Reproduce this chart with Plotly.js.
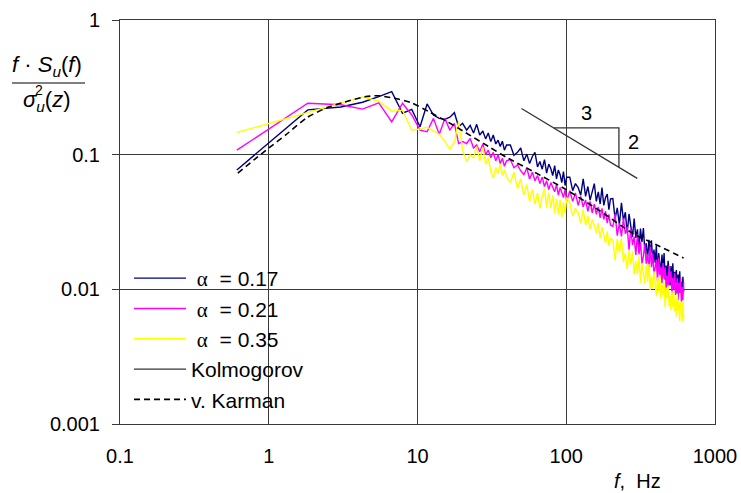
<!DOCTYPE html>
<html>
<head>
<meta charset="utf-8">
<script src="https://cdn.plot.ly/plotly-3.0.1.min.js"></script>
<style>html,body{margin:0;padding:0;background:#fff}#chart{width:741px;height:493px}</style>
</head>
<body>
<div id="chart"></div>
<script>
// ---- data ----
const freq = [0.61,1.83,3.05,4.27,5.49,6.71,7.93,9.15,10.4,11.6,12.8,14.0,15.3,16.5,17.7,18.9,20.1,21.4,22.6,23.8,25.0,26.2,27.5,28.7,29.9,31.1,32.3,33.6,34.8,36.0,37.2,38.4,39.7,
42.1,44.5,47.0,49.4,51.9,54.3,56.7,59.2,61.6,64.1,66.5,68.9,71.4,73.8,76.3,78.7,81.1,83.6,86.0,88.5,90.9,93.3,95.8,98.2,100.7,
105.6,110.5,115.3,120.2,125.1,130.0,134.9,139.8,144.6,149.5,154.4,159.3,164.2,169.1,173.9,178.8,183.7,188.6,193.5,198.3,
205.7,213.0,220.3,227.6,235.0,242.3,249.6,256.9,264.3,271.6,278.9,286.2,293.6,300.9,308.2,315.5,322.9,330.2,337.5,344.8,352.2,359.5,366.8,374.1,381.5,388.8,396.1,403.4,410.8,418.1,425.4,432.7,440.1,447.4,454.7,462.0,469.4,476.7,484.0,491.3,498.7,506.0,513.3,520.6,528.0,535.3,542.6,549.9,557.3,564.6,571.9,579.2,586.6,593.9,601.2,608.5,615.8];

const alpha017 = [0.077,0.215,0.226,0.245,0.270,0.294,0.203,0.217,0.161,0.238,0.197,0.186,0.183,0.190,0.205,0.161,0.171,0.152,0.165,0.145,0.168,0.140,0.150,0.131,0.145,0.125,0.140,0.120,0.128,0.115,0.126,0.108,0.118,
0.118,0.099,0.104,0.112,0.090,0.101,0.086,0.097,0.104,0.081,0.089,0.078,0.092,0.073,0.085,0.079,0.070,0.083,0.066,0.077,0.071,0.062,0.075,0.059,0.068,
0.068,0.054,0.061,0.057,0.050,0.066,0.049,0.058,0.046,0.052,0.061,0.045,0.053,0.043,0.057,0.042,0.048,0.051,0.039,0.047,
0.0472,0.0335,0.0403,0.0303,0.0439,0.0326,0.0374,0.0262,0.0363,0.0295,0.0245,0.0336,0.0241,0.0279,0.0196,0.0283,0.0225,0.0285,0.0190,0.0220,0.0168,0.0233,0.0183,0.0231,0.0157,0.0197,0.0157,0.0211,0.0134,0.0186,0.0156,0.0133,0.0181,0.0137,0.0186,0.0118,0.0150,0.0122,0.0163,0.0128,0.0107,0.0149,0.0116,0.0156,0.0105,0.0135,0.0111,0.0139,0.0092,0.0129,0.0109,0.0136,0.0095,0.0114,0.0089,0.0124,0.0096];

const alpha021 = [0.108,0.241,0.235,0.218,0.243,0.175,0.241,0.197,0.152,0.148,0.186,0.142,0.186,0.152,0.171,0.121,0.125,0.121,0.132,0.112,0.118,0.105,0.120,0.100,0.108,0.095,0.104,0.090,0.100,0.086,0.094,0.082,0.090,
0.092,0.080,0.084,0.076,0.071,0.080,0.066,0.074,0.064,0.070,0.061,0.068,0.058,0.064,0.055,0.062,0.058,0.053,0.060,0.050,0.057,0.052,0.048,0.055,0.045,
0.054,0.045,0.052,0.042,0.049,0.041,0.046,0.038,0.045,0.037,0.043,0.036,0.041,0.034,0.040,0.033,0.038,0.031,0.036,0.030,
0.0293,0.0362,0.0250,0.0309,0.0247,0.0337,0.0258,0.0291,0.0197,0.0283,0.0214,0.0246,0.0180,0.0256,0.0182,0.0225,0.0155,0.0177,0.0216,0.0155,0.0183,0.0138,0.0208,0.0146,0.0185,0.0130,0.0145,0.0166,0.0115,0.0172,0.0122,0.0147,0.0111,0.0157,0.0120,0.0146,0.0101,0.0126,0.0104,0.0149,0.0113,0.0136,0.0090,0.0122,0.0100,0.0132,0.0091,0.0104,0.0121,0.0083,0.0112,0.0094,0.0122,0.0081,0.0104,0.0083,0.0113];

const alpha035 = [0.146,0.205,0.240,0.268,0.250,0.210,0.214,0.152,0.155,0.160,0.150,0.142,0.125,0.110,0.125,0.176,0.108,0.089,0.100,0.095,0.115,0.090,0.114,0.085,0.095,0.075,0.067,0.080,0.072,0.085,0.070,0.077,0.068,
0.062,0.074,0.056,0.066,0.050,0.060,0.045,0.055,0.043,0.052,0.040,0.049,0.056,0.041,0.052,0.040,0.050,0.037,0.047,0.036,0.046,0.034,0.044,0.037,0.048,
0.044,0.035,0.040,0.037,0.031,0.039,0.030,0.035,0.028,0.033,0.030,0.026,0.031,0.024,0.029,0.025,0.022,0.027,0.021,0.024,
0.0232,0.0164,0.0237,0.0188,0.0238,0.0159,0.0185,0.0141,0.0195,0.0153,0.0192,0.0129,0.0163,0.0130,0.0175,0.0112,0.0156,0.0131,0.0111,0.0151,0.0114,0.0155,0.0099,0.0125,0.0102,0.0136,0.0106,0.0089,0.0123,0.0095,0.0128,0.0085,0.0110,0.0090,0.0113,0.0074,0.0103,0.0086,0.0107,0.0075,0.0090,0.0070,0.0097,0.0074,0.0096,0.0069,0.0083,0.0063,0.0093,0.0070,0.0080,0.0058,0.0082,0.0068,0.0058,0.0082,0.0060];

const kolmoX = [50, 300];
const kolmoY = [0.22, 0.0667];
const triX = [82.8, 226, 226];
const triY = [0.158, 0.158, 0.0805];
const slopeLabels = ['3', '2'];
const slopeLabelX = [136, 285];
const slopeLabelY = [0.204, 0.124];

const karmanX = [0.62,0.8,1.0,1.3,1.8,2.5,3.2,4.5,5.5,7,9,12,16,21,30,40,60,100,170,280,400,615];
const karmanY = [0.073,0.092,0.112,0.14,0.188,0.225,0.245,0.27,0.274,0.262,0.244,0.208,0.175,0.146,0.115,0.095,0.075,0.055,0.038,0.026,0.0215,0.0171];

const seriesNames = ['\u00a0\u03b1\u00a0\u00a0= 0.17', '\u00a0\u03b1\u00a0\u00a0= 0.21', '\u00a0\u03b1\u00a0\u00a0= 0.35', 'Kolmogorov', 'v. Karman'];
const xTicks = [0.1, 1, 10, 100, 1000];
const xTickText = ['0.1', '1', '10', '100', '1000'];
const yTicks = [0.001, 0.01, 0.1, 1];
const yTickText = ['0.001', '0.01', '0.1', '1'];

// ---- traces ----
const FONT = 'Arial, "Liberation Sans", sans-serif';
function alphaLabel(s) {
  return s.replace('\u03b1', '<span style="font-family:\'Liberation Serif\',serif">\u03b1</span>');
}
const traces = [
  {x: freq, y: alpha017, mode: 'lines', name: alphaLabel(seriesNames[0]), legendgroup: 'a', line: {color: '#000080', width: 1.4}},
  {x: freq, y: alpha021, mode: 'lines', name: alphaLabel(seriesNames[1]), legendgroup: 'b', line: {color: '#FF00FF', width: 1.4}},
  {x: freq, y: alpha035, mode: 'lines', name: alphaLabel(seriesNames[2]), legendgroup: 'c', line: {color: '#FFFF00', width: 1.4}},
  {x: kolmoX, y: kolmoY, mode: 'lines', name: seriesNames[3], legendgroup: 'd', line: {color: '#333333', width: 1.3}},
  {x: triX, y: triY, mode: 'lines', showlegend: false, legendgroup: 'd', line: {color: '#333333', width: 1.3}},
  {x: karmanX, y: karmanY, mode: 'lines', name: seriesNames[4], legendgroup: 'e', line: {color: '#000000', width: 1.6, dash: '6px,4px', shape: 'spline', smoothing: 0.6}}
];

const L = 120, R = 715, T = 20, B = 424;
const W = R - L, H = B - T;
const px = v => (v - L) / W;
const py = v => (B - v) / H;

const layout = {
  width: 741, height: 493,
  margin: {l: L, r: 741 - R, t: T, b: 493 - B, pad: 0},
  paper_bgcolor: '#ffffff', plot_bgcolor: '#ffffff',
  font: {family: FONT, color: '#000', size: 20},
  showlegend: true,
  legend: {x: px(129), y: py(258), xanchor: 'left', yanchor: 'top', bgcolor: 'rgba(0,0,0,0)',
           font: {family: FONT, size: 21, color: '#000'}, tracegroupgap: 10, itemwidth: 52, traceorder: 'normal'},
  xaxis: {type: 'log', range: [-1, 3], tickvals: xTicks, ticktext: xTickText, ticks: '',
          showgrid: true, gridcolor: '#3a3a3a', gridwidth: 1, showline: true, linecolor: '#3a3a3a', linewidth: 1, mirror: true,
          zeroline: false, tickfont: {family: FONT, size: 20, color: '#000'}, ticklabelstandoff: 14},
  yaxis: {type: 'log', range: [-3, 0], tickvals: yTicks, ticktext: yTickText, ticks: 'outside', ticklen: 7, tickcolor: '#3a3a3a',
          showgrid: true, gridcolor: '#3a3a3a', gridwidth: 1, showline: true, linecolor: '#3a3a3a', linewidth: 1, mirror: true,
          zeroline: false, tickfont: {family: FONT, size: 20, color: '#000'}, ticklabelstandoff: 8},
  shapes: [
    {type: 'rect', xref: 'paper', yref: 'paper', x0: 0, x1: px(312), y0: 0, y1: py(258), fillcolor: '#ffffff', line: {width: 0}, layer: 'between'},
    {type: 'line', xref: 'paper', yref: 'paper', x0: px(12), x1: px(85), y0: py(83), y1: py(83), line: {color: '#000', width: 1.2}}
  ],
  annotations: [
    {xref: 'paper', yref: 'paper', x: px(47), y: py(66), text: '<i>f</i> \u00b7 <i>S</i><sub><i>u</i></sub>(<i>f</i>)', showarrow: false, xanchor: 'center', yanchor: 'middle', font: {family: FONT, size: 22, color: '#000'}},
    {xref: 'paper', yref: 'paper', x: px(47), y: py(101), text: '<i>\u03c3</i><sub><i>u</i></sub>(<i>z</i>)', showarrow: false, xanchor: 'center', yanchor: 'middle', font: {family: FONT, size: 22, color: '#000'}},
    {xref: 'paper', yref: 'paper', x: px(39), y: py(90), text: '2', showarrow: false, xanchor: 'center', yanchor: 'middle', font: {family: FONT, size: 14, color: '#000'}},
    {xref: 'paper', yref: 'paper', x: px(637), y: py(481), text: '<i>f</i>,\u00a0\u00a0Hz', showarrow: false, xanchor: 'center', yanchor: 'middle', font: {family: FONT, size: 20, color: '#000'}},
    {xref: 'x', yref: 'y', x: Math.log10(slopeLabelX[0]), y: Math.log10(slopeLabelY[0]), text: slopeLabels[0], showarrow: false, font: {family: FONT, size: 20, color: '#000'}},
    {xref: 'x', yref: 'y', x: Math.log10(slopeLabelX[1]), y: Math.log10(slopeLabelY[1]), text: slopeLabels[1], showarrow: false, font: {family: FONT, size: 20, color: '#000'}}
  ]
};

Plotly.newPlot('chart', traces, layout, {staticPlot: true, displayModeBar: false});
</script>
</body>
</html>
